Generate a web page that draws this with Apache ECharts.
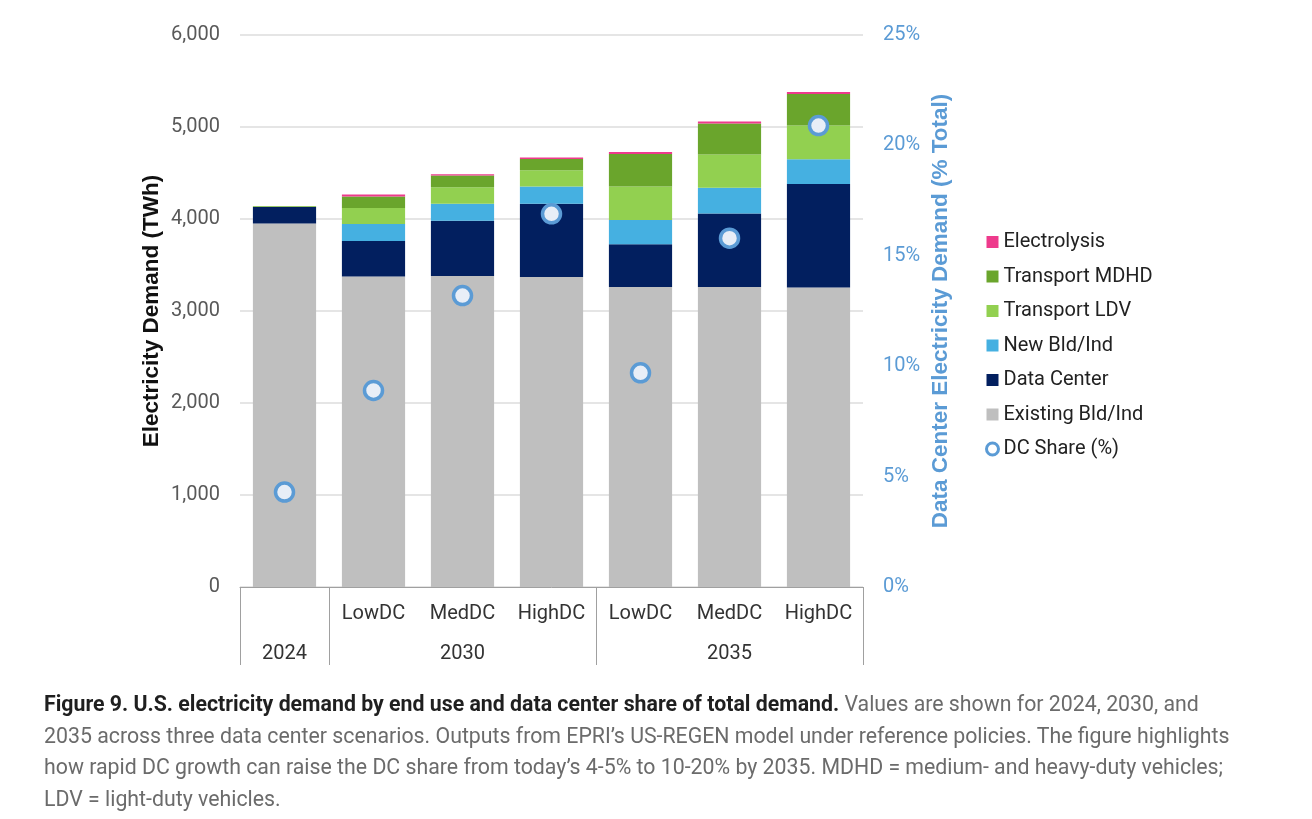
<!DOCTYPE html>
<html>
<head>
<meta charset="utf-8">
<script src="https://cdn.jsdelivr.net/npm/echarts@6.0.0/dist/echarts.min.js"></script>
<style>
  html, body {margin: 0; padding: 0; background: #fff;}
  #chart {position: absolute; left: 0; top: 0; width: 1312px; height: 690px;}
  .caption {position: absolute; left: 44px; top: 688px; font-family: Roboto, sans-serif; font-size: 21.3px;
    line-height: 31.7px; color: #6b6b6b; white-space: nowrap;}
  .caption b {color: #1f1f1f; font-weight: 700;}
</style>
</head>
<body>
<div id="chart"></div>
<div class="caption">
  <b>Figure 9. U.S. electricity demand by end use and data center share of total demand.</b> Values are shown for 2024, 2030, and<br>
  2035 across three data center scenarios. Outputs from EPRI’s US-REGEN model under reference policies. The figure highlights<br>
  how rapid DC growth can raise the DC share from today’s 4-5% to 10-20% by 2035. MDHD = medium- and heavy-duty vehicles;<br>
  LDV = light-duty vehicles.
</div>
<script>
;(function () {
  // scenario labels (upper row) and year groups (lower row)
  const scenarios = ['', 'LowDC', 'MedDC', 'HighDC', 'LowDC', 'MedDC', 'HighDC']
  const groups = ['2024', '2030', '2035']
  const groupSizes = [1, 3, 3]

  // TWh by end use
  const existingBld = [3950, 3375, 3380, 3370, 3260, 3260, 3255]
  const dataCenter = [180, 385, 600, 795, 465, 800, 1125]
  const newBld = [0, 185, 185, 188, 265, 280, 270]
  const transportLDV = [5, 175, 180, 178, 362, 362, 365]
  const transportMDHD = [5, 125, 127, 120, 355, 337, 345]
  const electrolysis = [0, 20, 15, 18, 20, 22, 21]
  // DC share of total (%)
  const dcShare = [4.3, 8.9, 13.2, 16.9, 9.7, 15.8, 20.9]

  const leftTicks = {min: 0, max: 6000, interval: 1000}
  const rightTicks = {min: 0, max: 25, interval: 5}

  // group boundaries and label positions on a 0..n value axis
  const bounds = [0], mids = []
  groupSizes.forEach((n, i) => {
    mids.push(bounds[i] + n / 2)
    bounds.push(bounds[i] + n)
  })

  const font = 'Roboto, sans-serif'
  const titleFont = 'Liberation Sans, Arial, sans-serif'
  const myChart = echarts.init(document.getElementById('chart'))

  function bar(name, data, color) {
    return {name, type: 'bar', stack: 'total', data, barCategoryGap: '29%', itemStyle: {color}}
  }

  const option = {
    animation: false,
    grid: {left: 240, right: 449, top: 35, height: 552},
    legend: {
      orient: 'vertical', left: 980, top: 227, itemGap: 14.5, itemWidth: 12, itemHeight: 12,
      textStyle: {fontFamily: font, fontSize: 20, color: '#222', lineHeight: 20},
      data: [
        {name: 'Electrolysis', icon: 'rect'}, {name: 'Transport MDHD', icon: 'rect'},
        {name: 'Transport LDV', icon: 'rect'}, {name: 'New Bld/Ind', icon: 'rect'},
        {name: 'Data Center', icon: 'rect'}, {name: 'Existing Bld/Ind', icon: 'rect'},
        {name: 'DC Share (%)', icon: 'circle', itemStyle: {borderWidth: 3, color: '#fff', borderColor: '#5b9bd5'}},
      ],
    },
    xAxis: [{
      type: 'category', data: scenarios,
      axisLine: {lineStyle: {color: '#a0a0a0', width: 1}},
      axisTick: {show: false},
      axisLabel: {fontFamily: font, fontSize: 20, color: '#333', margin: 17, interval: 0},
    }, {
      type: 'value', min: 0, max: scenarios.length, position: 'bottom',
      axisLine: {show: false, onZero: false},
      splitLine: {show: false},
      axisTick: {show: true, customValues: bounds, length: 78, lineStyle: {color: '#a0a0a0', width: 1}},
      axisLabel: {
        customValues: mids, fontFamily: font, fontSize: 20, color: '#333', margin: 57,
        formatter: v => groups[mids.indexOf(v)],
      },
    }],
    yAxis: [{
      type: 'value', ...leftTicks,
      name: 'Electricity Demand (TWh)', nameLocation: 'middle', nameGap: 77, nameRotate: 90,
      nameTextStyle: {fontFamily: titleFont, fontWeight: 'bold', fontSize: 22.5, color: '#111'},
      axisLine: {show: false}, axisTick: {show: false},
      axisLabel: {fontFamily: font, fontSize: 20, color: '#595959', margin: 20, formatter: v => v.toLocaleString('en-US')},
      splitLine: {lineStyle: {color: '#dcdcdc', width: 1.5}},
    }, {
      type: 'value', ...rightTicks, position: 'right',
      name: 'Data Center Electricity Demand (% Total)', nameLocation: 'middle', nameGap: 66, nameRotate: 90,
      nameTextStyle: {fontFamily: titleFont, fontWeight: 'bold', fontSize: 22.5, color: '#5b9bd5'},
      axisLine: {show: false}, axisTick: {show: false},
      axisLabel: {fontFamily: font, fontSize: 20, color: '#5b9bd5', margin: 20, formatter: '{value}%'},
      splitLine: {show: false},
    }],
    series: [
      bar('Existing Bld/Ind', existingBld, '#bfbfbf'),
      bar('Data Center', dataCenter, '#021f5f'),
      bar('New Bld/Ind', newBld, '#45b0e1'),
      bar('Transport LDV', transportLDV, '#92d050'),
      bar('Transport MDHD', transportMDHD, '#6aa52c'),
      bar('Electrolysis', electrolysis, '#ee3a8c'),
      {
        name: 'DC Share (%)', type: 'scatter', yAxisIndex: 1, data: dcShare, symbolSize: 18, z: 5,
        itemStyle: {color: '#e8eef7', borderColor: '#5b9bd5', borderWidth: 3.5, opacity: 1},
      },
    ],
  }
  myChart.setOption(option)
})()
</script>
</body>
</html>
